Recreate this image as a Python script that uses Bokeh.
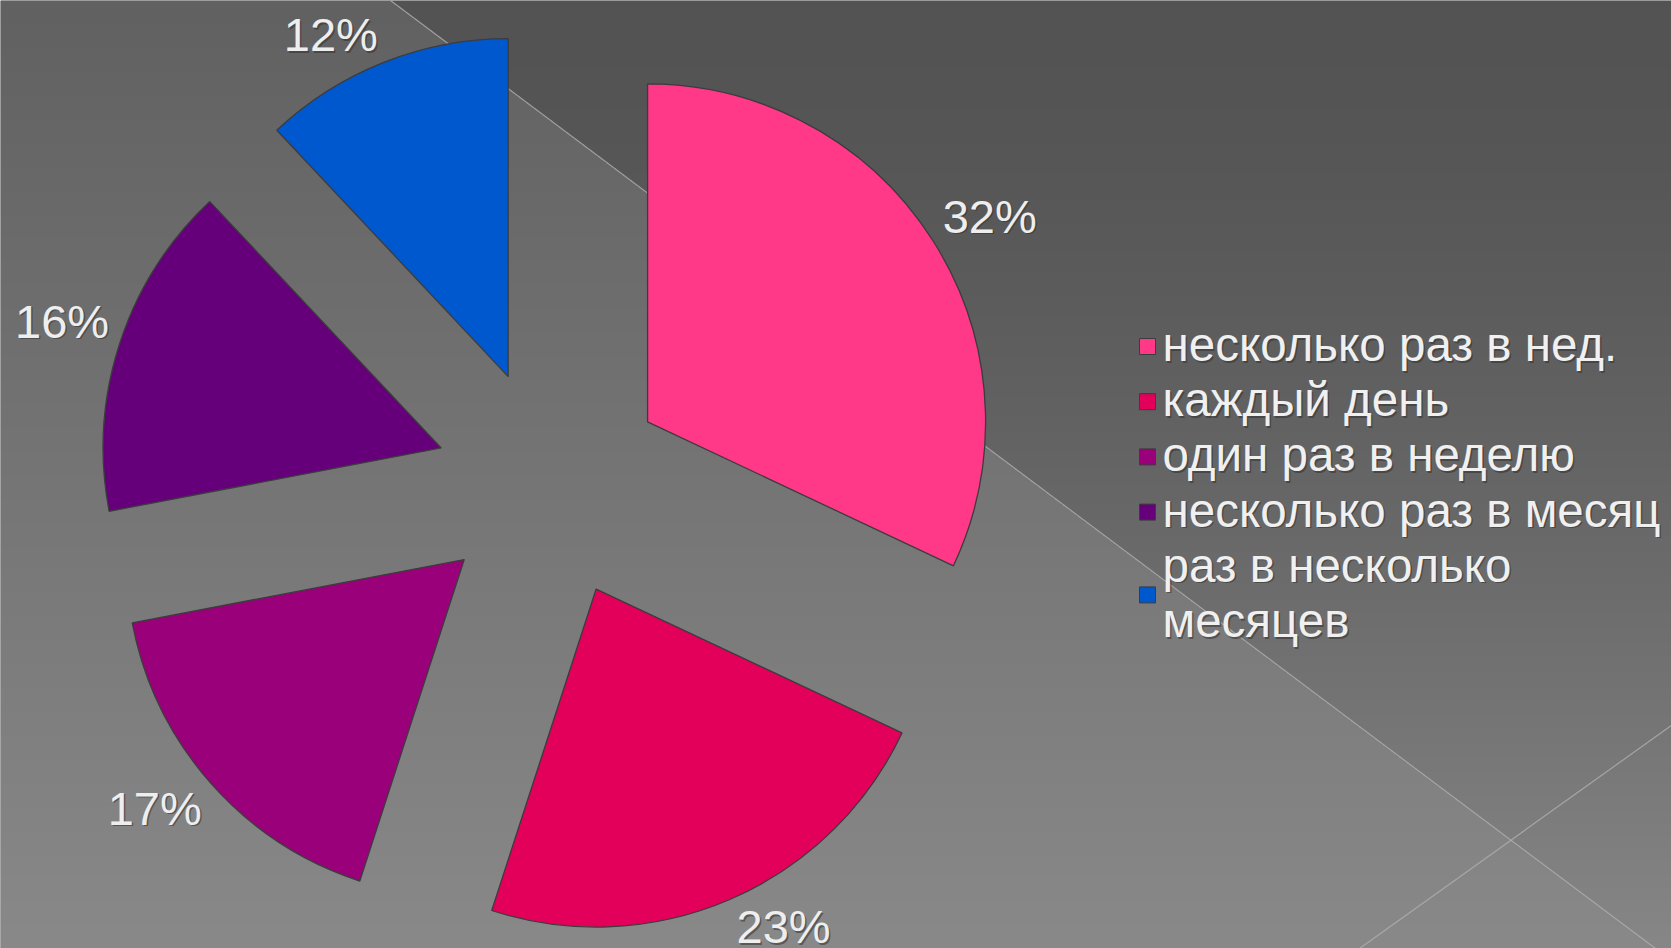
import numpy as np
from bokeh.plotting import figure
from bokeh.models import Range1d
from bokeh.core.properties import value
from bokeh.embed import file_html
from bokeh.resources import INLINE

# ---- data ----
categories = ["несколько раз в нед.", "каждый день", "один раз в неделю",
              "несколько раз в месяц", "раз в несколько\nмесяцев"]
values = [32, 23, 17, 16, 12]
colors = ["#FF3888", "#E2005A", "#99007A", "#65007A", "#0058CF"]
pct_labels = [f"{v}%" for v in values]

# ---- page geometry ----
W, H = 1671, 948
p = figure(width=W, height=H,
           x_range=Range1d(0, W), y_range=Range1d(0, H),
           output_backend="svg", toolbar_location=None, min_border=0)
p.axis.visible = False
p.grid.visible = False
p.outline_line_color = None
p.background_fill_color = "#6a6a6a"
p.border_fill_color = "#6a6a6a"

# ---- background gradient (slide decoration) ----
S = 2
nx, ny = W // S + 1, H // S
X = (np.arange(nx) + 0.5) * S
Yp = H - (np.arange(ny) + 0.5) * S
XX, YY = np.meshgrid(X, Yp)
t = np.clip(YY / H, 0, 1)
below = YY > 0.75 * (XX - 390)
v = np.where(below, 97 + 40 * t, 83 + 52 * t ** 1.5)
img = np.empty((ny, nx), dtype=np.uint32)
view = img.view(dtype=np.uint8).reshape((ny, nx, 4))
vi = np.clip(v, 0, 255).astype(np.uint8)
view[..., 0] = vi
view[..., 1] = vi
view[..., 2] = vi
view[..., 3] = 255
p.image_rgba(image=[img], x=0, y=H - ny * S, dw=nx * S, dh=ny * S)

# decorative thin lines
p.segment(x0=[390, 1359], y0=[H - 0, H - 948], x1=[1655, 1675], y1=[H - 948, H - 722],
          line_color="#b0b0b0", line_width=1.2, line_alpha=0.8)

# ---- exploded pie ----
cx0, cy0 = 550, H - 483
R, EXP, GAP, HW, HH = 338, 115, 8, 50, 20
vals = np.array(values, dtype=float)
cum = np.concatenate([[0], np.cumsum(vals)]) / vals.sum() * 2 * np.pi
th1, th2 = cum[:-1], cum[1:]
mid = (th1 + th2) / 2
wx = cx0 + EXP * np.sin(mid)
wy = cy0 + EXP * np.cos(mid)
p.wedge(x=wx, y=wy, radius=R, start_angle=np.pi / 2 - th1, end_angle=np.pi / 2 - th2,
        direction="clock", fill_color=colors, line_color="#3c3c3c", line_width=1.3)

# labels: outside end, label box corner touching circle along the bisector
rr = EXP + R + GAP
lx = cx0 + rr * np.sin(mid) + np.sign(np.sin(mid)) * HW
ly = cy0 + rr * np.cos(mid) + np.sign(np.cos(mid)) * HH
p.text(x=lx + 1.5, y=ly - 1.5, text=pct_labels, text_font=value("Liberation Sans"),
       text_font_size="47px", text_color="#303030", text_alpha=0.55,
       text_align="center", text_baseline="middle")
p.text(x=lx, y=ly, text=pct_labels, text_font=value("Liberation Sans"),
       text_font_size="47px", text_color="#EEEEEE",
       text_align="center", text_baseline="middle")

# ---- legend (drawn) ----
LEG_SQ_X, LEG_TX, LEG_TOP, LEG_LH, SQ = 1147, 1162, 344, 55.2, 16
sq_x, sq_y, tx, ty, tt = [], [], [], [], []
line_idx = 0
for cat in categories:
    parts = cat.split("\n")
    ys = [LEG_TOP + (line_idx + k) * LEG_LH for k in range(len(parts))]
    for k, part in enumerate(parts):
        tx.append(LEG_TX)
        ty.append(H - ys[k])
        tt.append(part)
    sq_x.append(LEG_SQ_X)
    sq_y.append(H - (np.mean(ys) + 2))
    line_idx += len(parts)

p.rect(x=sq_x, y=sq_y, width=SQ, height=SQ, fill_color=colors, line_color="#3c3c3c",
       line_width=1)
p.text(x=[a + 1.5 for a in tx], y=[b - 1.5 for b in ty], text=tt,
       text_font=value("Liberation Sans"), text_font_size="47.5px", text_color="#303030",
       text_alpha=0.55, text_align="left", text_baseline="middle")
p.text(x=tx, y=ty, text=tt, text_font=value("Liberation Sans"), text_font_size="47.5px",
       text_color="#F0F0F0", text_align="left", text_baseline="middle")

open("out.html", "w").write(file_html(p, INLINE))
